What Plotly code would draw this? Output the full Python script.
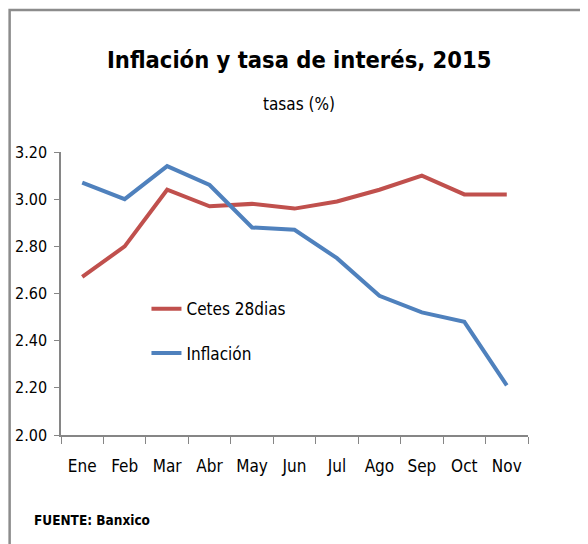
import plotly.graph_objects as go

# Datos (tasas %, 2015)
meses = ["Ene", "Feb", "Mar", "Abr", "May", "Jun", "Jul", "Ago", "Sep", "Oct", "Nov"]
cetes_28 = [2.67, 2.80, 3.04, 2.97, 2.98, 2.96, 2.99, 3.04, 3.10, 3.02, 3.02]
inflacion = [3.07, 3.00, 3.14, 3.06, 2.88, 2.87, 2.75, 2.59, 2.52, 2.48, 2.21]

FONT = "DejaVu Sans Condensed, Liberation Sans Narrow, Roboto Condensed, sans-serif"
GRIS = "#868686"

fig = go.Figure()
fig.add_trace(go.Scatter(x=meses, y=cetes_28, name="Cetes 28dias", mode="lines",
                         line=dict(color="#C0504D", width=4), legendgroup="a"))
fig.add_trace(go.Scatter(x=meses, y=inflacion, name="Inflación", mode="lines",
                         line=dict(color="#4F81BD", width=4), legendgroup="b"))

fig.update_layout(
    width=588, height=544,
    margin=dict(l=53, r=68, t=144, b=117),
    paper_bgcolor="white", plot_bgcolor="white",
    font=dict(family=FONT, size=17, color="#000000"),
    showlegend=True,
    legend=dict(x=0.183, y=0.508, xanchor="left", yanchor="top",
                bgcolor="rgba(0,0,0,0)", tracegroupgap=19,
                font=dict(size=17)),
    xaxis=dict(range=[-0.5, 10.5], showgrid=False, showline=True, linecolor=GRIS, linewidth=1.5,
               ticks="outside", ticklen=7, tickcolor=GRIS, tickson="boundaries",
               ticklabelstandoff=15, automargin=False),
    yaxis=dict(range=[2.0, 3.2], dtick=0.2, tickformat=".2f", showgrid=False,
               showline=True, linecolor=GRIS, linewidth=1.5,
               ticks="outside", ticklen=5, tickcolor=GRIS, zeroline=False,
               ticklabelstandoff=4, automargin=False, tickfont=dict(size=16)),
)

# titulo y subtitulo
fig.add_annotation(text="<b>Inflación y tasa de interés, 2015</b>", xref="paper", yref="paper",
                   x=0.51, y=1.325, xanchor="center", yanchor="middle", showarrow=False,
                   font=dict(size=23.5))
fig.add_annotation(text="tasas (%)", xref="paper", yref="paper",
                   x=0.51, y=1.168, xanchor="center", yanchor="middle", showarrow=False,
                   font=dict(size=17))
fig.add_annotation(text="<b>FUENTE: Banxico</b>", xref="paper", yref="paper",
                   x=-0.062, y=-0.3, xanchor="left", yanchor="middle", showarrow=False,
                   font=dict(size=13.5))

# marco del grafico
fig.add_shape(type="rect", xref="paper", yref="paper",
              x0=-0.11, y0=-0.5, x1=1.2, y1=1.502,
              line=dict(color="#8c8c8c", width=2.5), layer="below")

fig.write_html("out.html")
